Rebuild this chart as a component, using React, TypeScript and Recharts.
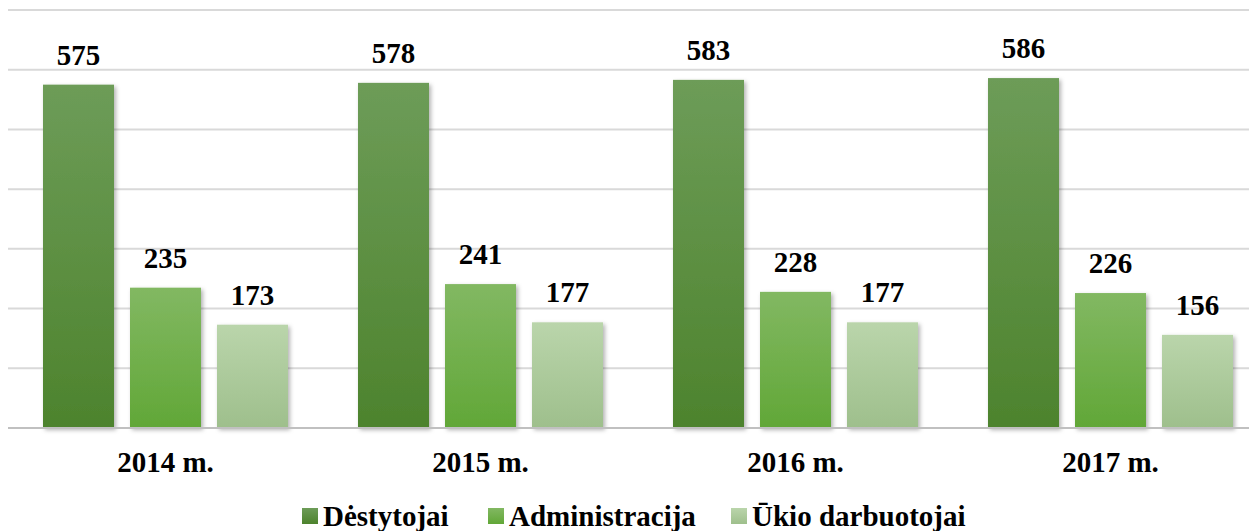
import React from "react";
import { BarChart, Bar, XAxis, YAxis, CartesianGrid, Legend, LabelList } from "recharts";

const categories = ["2014 m.", "2015 m.", "2016 m.", "2017 m."];
const destytojai = [575, 578, 583, 586];
const administracija = [235, 241, 228, 226];
const ukio = [173, 177, 177, 156];
const seriesNames = ["Dėstytojai", "Administracija", "Ūkio darbuotojai"];
const yTicks = [0, 100, 200, 300, 400, 500, 600, 700];

const data = categories.map((c, i) => ({
  name: c,
  d: destytojai[i],
  a: administracija[i],
  u: ukio[i],
}));

const grads = [
  { id: "gD", top: "#6d9c58", bottom: "#4d832d" },
  { id: "gA", top: "#82b862", bottom: "#61a737" },
  { id: "gU", top: "#bad5ab", bottom: "#9ebf8c" },
];

const FONT = "'Liberation Serif', 'Times New Roman', serif";
const FS = 29;
const legendX = [294, 480, 723];

const makeShape = (gid: string) => (props: any) => {
  const { x, y, width, height } = props;
  if (!height || height <= 0) return <g />;
  return (
    <rect
      x={x}
      y={y}
      width={width}
      height={height}
      fill={`url(#${gid})`}
      filter="url(#barShadow)"
    />
  );
};

const LegendContent = () => (
  <svg width={1249} height={30} style={{ display: "block" }}>
    <defs>
      {grads.map((g) => (
        <linearGradient key={g.id} id={g.id + "L"} x1="0" y1="0" x2="0" y2="1">
          <stop offset="0%" stopColor={g.top} />
          <stop offset="100%" stopColor={g.bottom} />
        </linearGradient>
      ))}
    </defs>
    {seriesNames.map((n, i) => (
      <g key={n}>
        <rect x={legendX[i]} y={7} width={16} height={16} fill={`url(#${grads[i].id}L)`} />
        <text
          x={legendX[i] + 21}
          y={25}
          fontFamily={FONT}
          fontWeight="bold"
          fontSize={FS}
          fill="#000"
        >
          {n}
        </text>
      </g>
    ))}
  </svg>
);

const labelStyle = { fontFamily: FONT, fontWeight: "bold", fontSize: FS, fill: "#000" };

export default function App() {
  return (
    <div style={{ width: 1249, height: 523, overflow: "hidden" }}>
      <BarChart
        width={1260}
        height={523}
        data={data}
        margin={{ top: 2, right: 0, bottom: 0, left: 0 }}
        barSize={71}
        barGap={16}
      >
        <defs>
          {grads.map((g) => (
            <linearGradient key={g.id} id={g.id} x1="0" y1="0" x2="0" y2="1">
              <stop offset="0%" stopColor={g.top} />
              <stop offset="100%" stopColor={g.bottom} />
            </linearGradient>
          ))}
          <filter id="barShadow" x="-20%" y="-10%" width="140%" height="120%">
            <feDropShadow dx="2" dy="2" stdDeviation="2" floodColor="#000" floodOpacity="0.3" />
          </filter>
        </defs>
        <CartesianGrid horizontal vertical={false} stroke="#d9d9d9" strokeWidth={2} />
        <YAxis hide domain={[0, 700]} ticks={yTicks} />
        <XAxis
          dataKey="name"
          axisLine={{ stroke: "#c0c0c0", strokeWidth: 2 }}
          tickLine={false}
          tickSize={0}
          tickMargin={23}
          height={73}
          tick={labelStyle}
        />
        <Legend
          verticalAlign="bottom"
          content={<LegendContent />}
          wrapperStyle={{ height: 30, bottom: 0, left: 0 }}
        />
        <Bar dataKey="d" name={seriesNames[0]} isAnimationActive={false} shape={makeShape("gD")}>
          <LabelList dataKey="d" position="top" offset={20} style={labelStyle} />
        </Bar>
        <Bar dataKey="a" name={seriesNames[1]} isAnimationActive={false} shape={makeShape("gA")}>
          <LabelList dataKey="a" position="top" offset={20} style={labelStyle} />
        </Bar>
        <Bar dataKey="u" name={seriesNames[2]} isAnimationActive={false} shape={makeShape("gU")}>
          <LabelList dataKey="u" position="top" offset={20} style={labelStyle} />
        </Bar>
      </BarChart>
    </div>
  );
}
